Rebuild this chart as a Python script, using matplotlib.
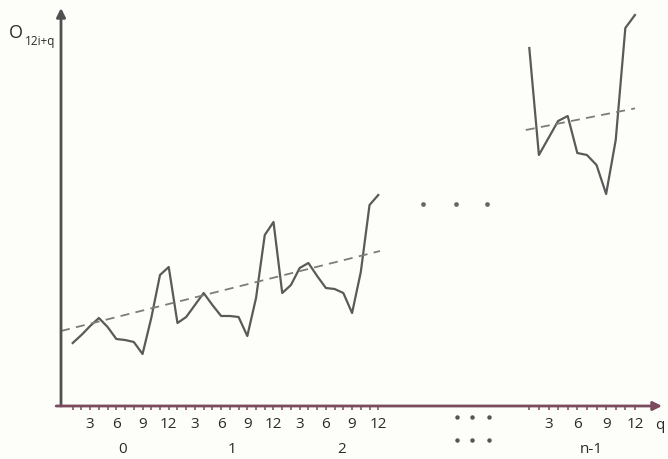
import matplotlib
matplotlib.use('Agg')
import matplotlib.pyplot as plt
import matplotlib.transforms as mtransforms
import numpy as np

plt.rcParams['font.family'] = ['Open Sans', 'DejaVu Sans']

# monthly observations, four years shown (0, 1, 2 and n-1)
months = list(range(1, 13))
year0 = [15.75, 17.75, 20, 22, 19.75, 16.75, 16.5, 16, 13, 22, 32.75, 34.75]
year1 = [20.75, 22.25, 25.25, 28.25, 25.25, 22.5, 22.5, 22.25, 17.5, 27, 42.75, 46]
year2 = [28.25, 30.25, 34.5, 35.75, 32.5, 29.5, 29.25, 28.25, 23.25, 33.5, 50.25, 52.75]
year_last = [89.5, 62.75, 67, 71.25, 72.5, 63.25, 62.75, 60.25, 53, 66.5, 94.5, 97.75]

# dashed trend lines (end values)
trend_first_y = [18.75, 38.75]
trend_last_y = [69, 74.4]

group_labels = ['0', '1', '2', 'n-1']
tick_months = [3, 6, 9, 12]

# horizontal layout of the groups
last_start = 53.3
last_step = 1.1

ink = '#5a5a5a'
axis_col = '#7a4a5e'
txt = '#2a2a2a'

fig = plt.figure(figsize=(6.68, 4.59), dpi=100, facecolor='#fdfdf9')
ax = fig.add_axes([61 / 668, 53 / 459, 601 / 668, 398 / 459])
ax.set_facecolor('#fdfdf9')

x_first = np.arange(1, 37)
y_first = year0 + year1 + year2
x_last = last_start + (np.array(months) - 1) * last_step

ax.plot(x_first, y_first, color=ink, lw=1.6)
ax.plot(x_last, year_last, color=ink, lw=1.6)

ax.plot([-0.34, 36.2], trend_first_y, color='#7c7c7c', lw=1.3, dashes=(5, 3.5))
ax.plot([x_last[0] - 0.4, x_last[-1]], trend_last_y, color='#7c7c7c', lw=1.3, dashes=(5, 3.5))

ax.set_xlim(-0.34, 68.5)
ax.set_ylim(0, 99.5)
for s in ax.spines.values():
    s.set_visible(False)
ax.set_yticks([])

# month ticks
all_x = list(x_first) + list(x_last)
all_q = months * 4
major = [x for x, q in zip(all_x, all_q) if q in tick_months]
major_lab = [str(q) for q in all_q if q in tick_months]
ax.set_xticks(major)
ax.set_xticklabels(major_lab, fontsize=11, color=txt)
ax.set_xticks(all_x, minor=True)
ax.tick_params(axis='x', which='both', direction='out', length=3, width=1.1,
               color=axis_col, pad=5)

# axes with arrows
ax.annotate('', xy=(0, 1.0), xytext=(0, 0), xycoords='axes fraction',
            arrowprops=dict(arrowstyle='-|>', color='#505050', lw=2,
                            mutation_scale=13, shrinkA=0, shrinkB=0))
ax.annotate('', xy=(1.0, 0), xytext=(-0.008, 0), xycoords='axes fraction',
            arrowprops=dict(arrowstyle='-|>', color=axis_col, lw=2,
                            mutation_scale=13, shrinkA=0, shrinkB=0))

trans = mtransforms.blended_transform_factory(ax.transData, ax.transAxes)
centers = [6.76, 19.24, 31.84, x_last.mean() + 1.0]
for c, lab in zip(centers, group_labels):
    ax.text(c, -0.11, lab, transform=trans, ha='center', va='center',
            fontsize=11, color=txt)

ax.text(0.997, -0.048, 'q', transform=ax.transAxes, ha='center', va='center',
        fontsize=11, color=txt)

# ellipsis dots
dots_in_plot_x = [41.1, 44.9, 48.5]
dots_below_x = [45.0, 46.7, 48.7]
ax.plot(dots_in_plot_x, [50.5] * 3, 'o', color='#666666', ms=3.4, mew=0)
for yy in [-0.028, -0.085]:
    ax.plot(dots_below_x, [yy] * 3, 'o', color='#555555', ms=3.2, mew=0,
            transform=trans, clip_on=False)

# y label
fig.text(9 / 668, 1 - 33 / 459, 'O', fontsize=13, color=txt, va='center')
fig.text(25 / 668, 1 - 41 / 459, '12i+q', fontsize=8.5, color=txt, va='center')

fig.savefig('out.png', dpi=100, facecolor=fig.get_facecolor())
